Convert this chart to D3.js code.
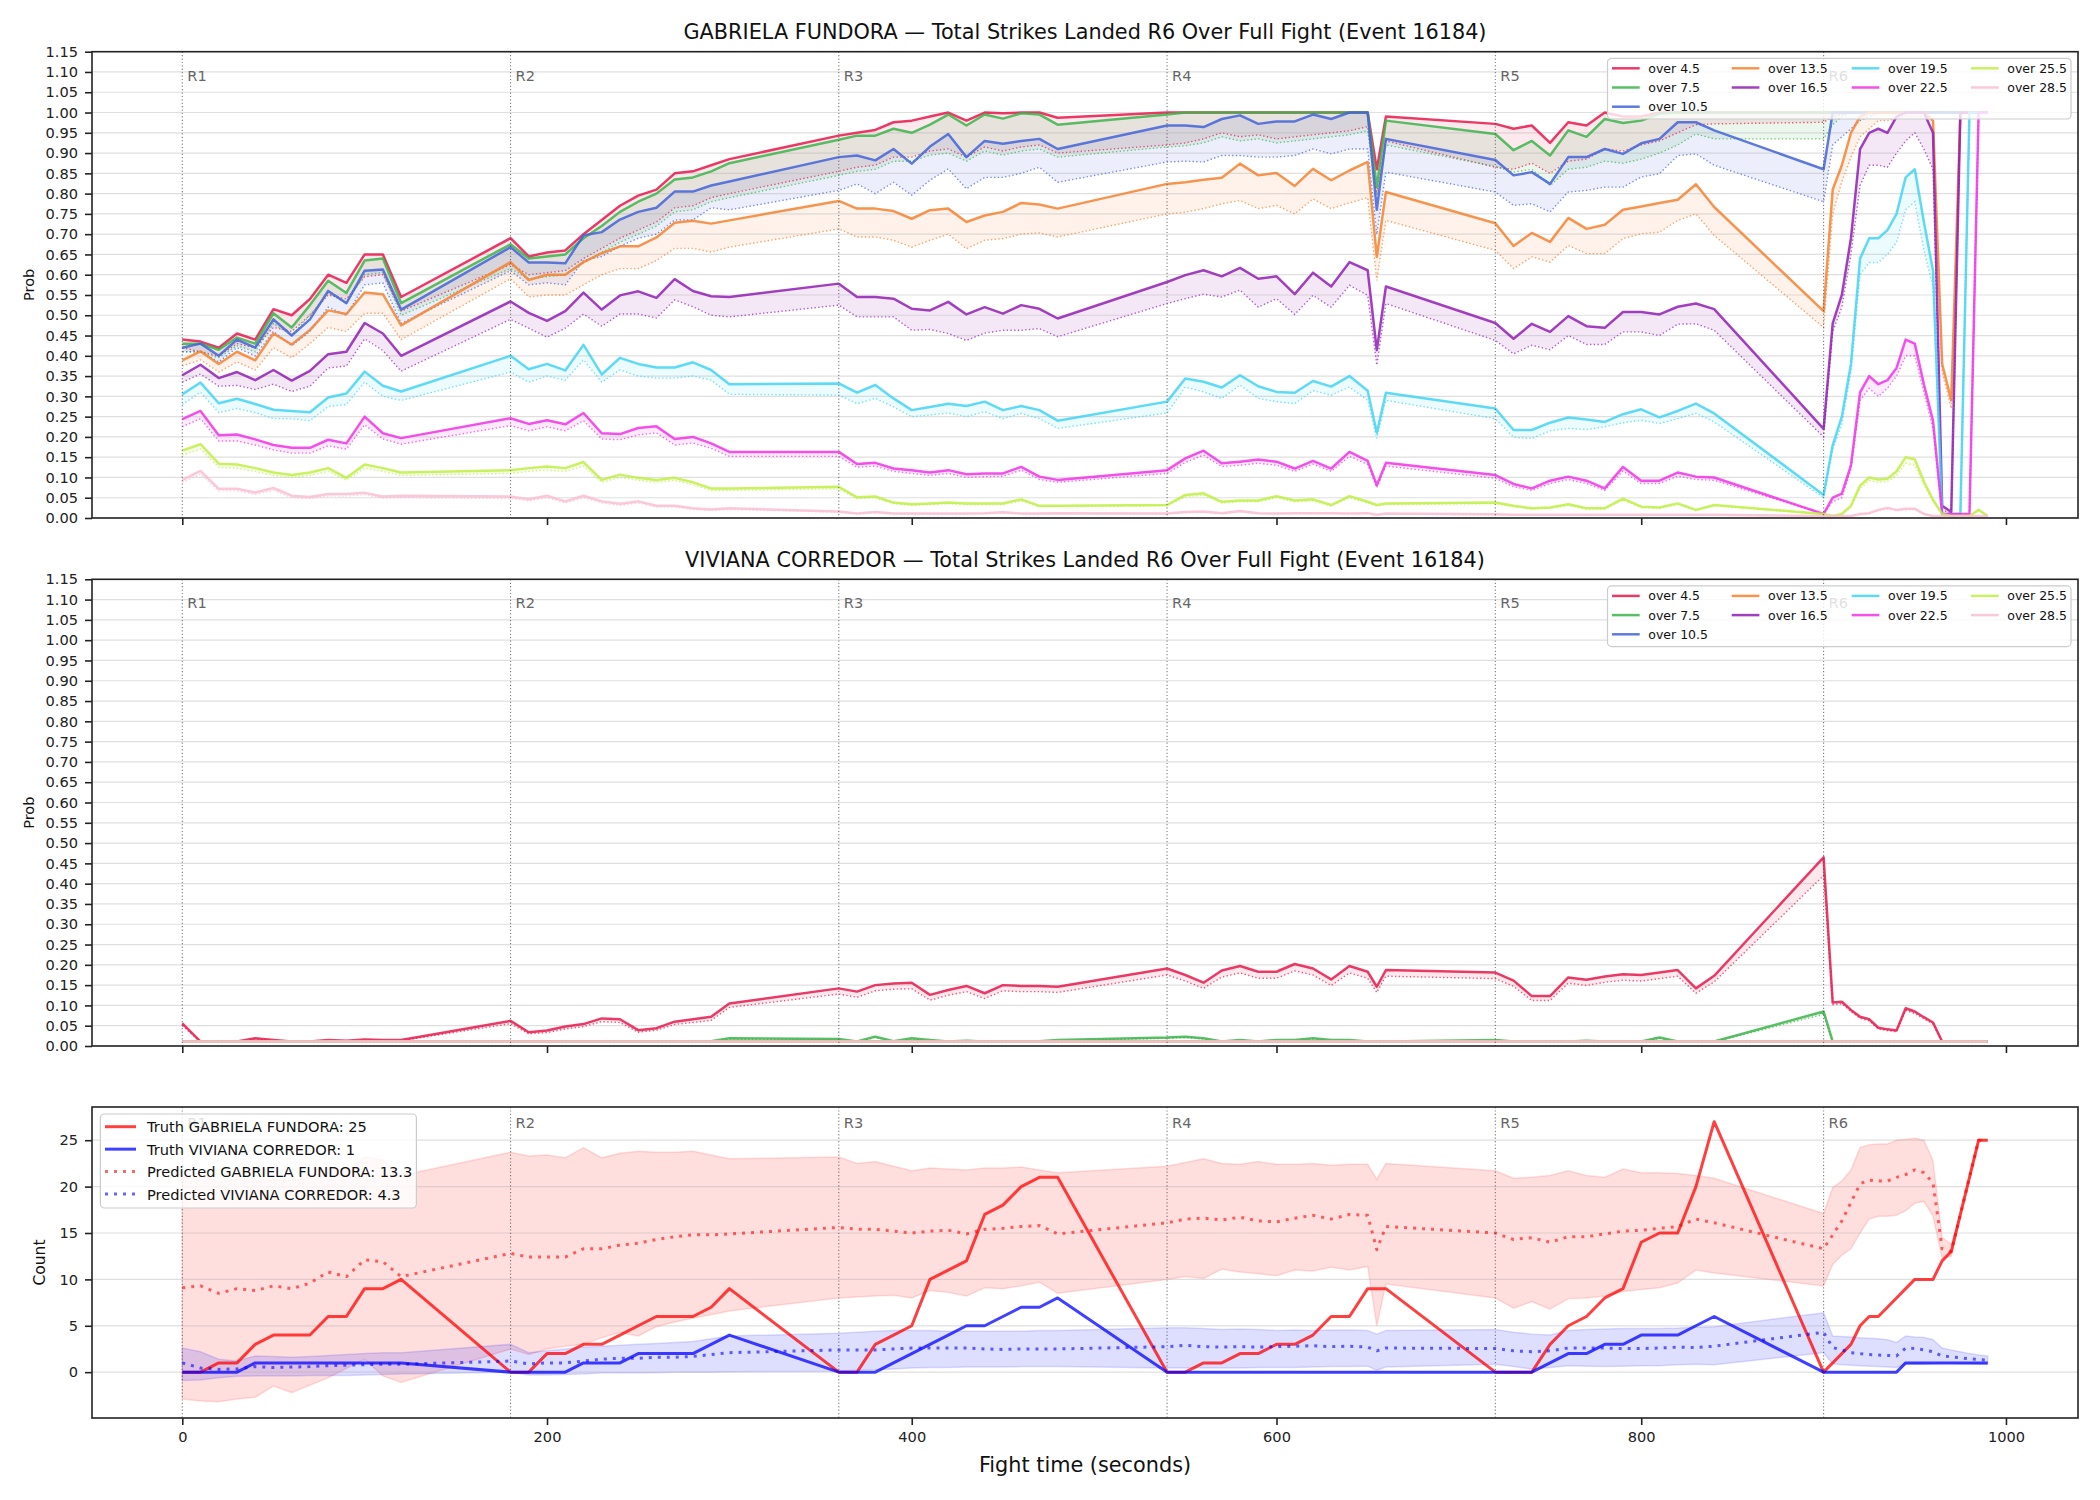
<!DOCTYPE html>
<html>
<head>
<meta charset="utf-8">
<script src="https://cdn.jsdelivr.net/npm/d3@7"></script>
<style>
  body { margin: 0; background: #fff; }
  text { font-family: "DejaVu Sans", sans-serif; }
</style>
</head>
<body>
<svg id="chart" width="2100" height="1500"></svg>
<script>
// sample times (seconds): 10s steps in R1-R5, 5s steps in R6, extra point at 655
const sampleTimes = [0,10,20,30,40,50,60,70,80,90,100,110,120,
  180,190,200,210,220,230,240,250,260,270,280,290,300,
  360,370,380,390,400,410,420,430,440,450,460,470,480,
  540,550,560,570,580,590,600,610,620,630,640,650,655,660,
  720,730,740,750,760,770,780,790,800,810,820,830,840,
  900,905,910,915,920,925,930,935,940,945,950,955,960,965,970,975,980,985,990];

const probTicks = [0,0.05,0.1,0.15,0.2,0.25,0.3,0.35,0.4,0.45,0.5,0.55,0.6,0.65,0.7,0.75,0.8,0.85,0.9,0.95,1,1.05,1.1,1.15];
const countTicks = [0,5,10,15,20,25];
const timeTicks = [0,200,400,600,800,1000];
const roundStarts = [0,180,360,540,720,900];
const roundLabels = ["R1","R2","R3","R4","R5","R6"];
const overLabels = ["over 4.5","over 7.5","over 10.5","over 13.5","over 16.5","over 19.5","over 22.5","over 25.5","over 28.5"];
const overColors = ["#e6194B","#3cb44b","#4363d8","#f58231","#911eb4","#42d4f4","#f032e6","#bfef45","#fabed4"];

// GABRIELA FUNDORA, solid line and dotted line per threshold
const gabLine45 = [0.44,0.435,0.42,0.455,0.44,0.515,0.50,0.54,0.60,0.58,0.65,0.65,0.545,
  0.69,0.645,0.655,0.66,0.70,0.735,0.77,0.795,0.81,0.85,0.855,0.87,0.885,
  0.943,0.95,0.957,0.976,0.98,0.99,1.0,0.98,1.0,0.998,1.0,1.0,0.987,
  1,1,1,1,1,1,1,1,1,1,1,1,0.86,0.99,
  0.972,0.96,0.968,0.925,0.976,0.968,1.0,0.99,0.99,1.0,1.0,1.0,1.0,
  1,1,1,1,1,1,1,1,1,1,1,1,1,1,1,1,1,1,1];
const gabDot45 = [0.42,0.41,0.40,0.43,0.42,0.47,0.46,0.50,0.55,0.54,0.595,0.60,0.51,
  0.625,0.60,0.605,0.61,0.64,0.665,0.69,0.71,0.73,0.765,0.77,0.79,0.80,
  0.855,0.865,0.87,0.89,0.89,0.905,0.91,0.89,0.915,0.905,0.915,0.92,0.90,
  0.92,0.925,0.935,0.95,0.94,0.945,0.935,0.94,0.945,0.95,0.955,0.965,0.80,0.93,
  0.865,0.86,0.875,0.85,0.88,0.885,0.91,0.905,0.92,0.93,0.95,0.97,0.972,
  0.976,0.99,0.995,1,1,1,1,1,1,1,1,1,1,1,1,1,1,1,1];
const gabLine75 = [0.43,0.43,0.415,0.445,0.43,0.505,0.47,0.525,0.585,0.555,0.635,0.64,0.53,
  0.675,0.64,0.645,0.65,0.69,0.72,0.755,0.78,0.80,0.835,0.84,0.855,0.875,
  0.933,0.943,0.943,0.96,0.95,0.97,0.995,0.968,0.995,0.985,0.998,0.995,0.97,
  0.995,1,1,1,1,1,1,1,1,1,1,1,0.816,0.98,
  0.947,0.907,0.93,0.894,0.956,0.94,0.984,0.974,0.98,0.997,1.0,1.0,1.0,
  1,1,1,1,1,1,1,1,1,1,1,1,1,1,1,1,1,1,1];
const gabDot75 = [0.41,0.41,0.395,0.425,0.41,0.48,0.45,0.50,0.555,0.53,0.60,0.605,0.50,
  0.615,0.59,0.595,0.60,0.63,0.655,0.68,0.70,0.72,0.755,0.76,0.78,0.79,
  0.845,0.855,0.86,0.88,0.88,0.895,0.90,0.88,0.905,0.895,0.905,0.91,0.89,
  0.915,0.918,0.925,0.94,0.93,0.935,0.925,0.93,0.935,0.94,0.945,0.955,0.79,0.92,
  0.867,0.853,0.86,0.82,0.86,0.865,0.88,0.875,0.885,0.90,0.92,0.947,0.935,
  0.935,0.97,0.99,1,1,1,1,1,1,1,1,1,1,1,1,1,1,1,1];
const gabLine105 = [0.42,0.43,0.40,0.44,0.42,0.49,0.45,0.49,0.56,0.53,0.61,0.613,0.514,
  0.668,0.63,0.63,0.628,0.697,0.705,0.736,0.755,0.765,0.805,0.805,0.82,0.83,
  0.89,0.894,0.882,0.91,0.874,0.916,0.947,0.89,0.93,0.923,0.93,0.935,0.91,
  0.968,0.968,0.964,0.984,0.993,0.972,0.978,0.978,0.995,0.984,1.0,1.0,0.76,0.935,
  0.883,0.845,0.853,0.824,0.89,0.89,0.91,0.898,0.924,0.935,0.976,0.976,0.956,
  0.86,1,1,1,1,1,1,1,1,1,1,1,1,1,1,1,1,1,1];
const gabDot105 = [0.41,0.41,0.385,0.42,0.40,0.46,0.425,0.46,0.52,0.50,0.575,0.58,0.48,
  0.61,0.575,0.58,0.575,0.635,0.645,0.67,0.69,0.70,0.735,0.735,0.765,0.76,
  0.808,0.824,0.80,0.828,0.796,0.833,0.861,0.812,0.84,0.84,0.85,0.865,0.828,
  0.878,0.88,0.878,0.894,0.894,0.89,0.89,0.894,0.91,0.898,0.91,0.91,0.70,0.853,
  0.804,0.771,0.775,0.755,0.804,0.808,0.816,0.816,0.841,0.849,0.894,0.898,0.87,
  0.78,0.92,0.94,0.96,0.98,0.99,1,1,1,1,1,1,1,1,1,1,1,1,1];
const gabLine135 = [0.389,0.411,0.38,0.41,0.389,0.455,0.428,0.464,0.512,0.503,0.556,0.552,0.475,
  0.631,0.587,0.60,0.60,0.631,0.653,0.67,0.67,0.692,0.728,0.733,0.726,0.734,
  0.782,0.763,0.763,0.757,0.738,0.759,0.763,0.73,0.746,0.755,0.777,0.773,0.763,
  0.824,0.828,0.834,0.839,0.874,0.845,0.851,0.819,0.861,0.833,0.857,0.878,0.644,0.804,
  0.727,0.671,0.703,0.681,0.74,0.713,0.723,0.76,0.768,0.777,0.785,0.823,0.767,
  0.51,0.81,0.87,0.95,0.99,1,1,1,1,1,1,1,0.98,0.38,0.29,1,1,1,1];
const gabDot135 = [0.375,0.39,0.36,0.385,0.365,0.42,0.395,0.43,0.47,0.46,0.505,0.505,0.44,
  0.59,0.545,0.55,0.55,0.575,0.60,0.615,0.615,0.635,0.665,0.665,0.656,0.668,
  0.713,0.693,0.693,0.685,0.668,0.685,0.70,0.664,0.685,0.689,0.70,0.703,0.693,
  0.75,0.754,0.763,0.775,0.783,0.763,0.771,0.75,0.787,0.763,0.777,0.79,0.586,0.734,
  0.66,0.615,0.644,0.631,0.672,0.652,0.652,0.689,0.701,0.705,0.734,0.75,0.697,
  0.47,0.75,0.83,0.89,0.94,0.96,0.98,0.98,0.985,0.99,0.99,0.99,0.98,0.36,0.27,1,1,1,1];
const gabLine165 = [0.352,0.378,0.345,0.36,0.34,0.365,0.339,0.363,0.404,0.41,0.481,0.455,0.40,
  0.534,0.506,0.486,0.51,0.556,0.514,0.549,0.559,0.543,0.589,0.56,0.547,0.545,
  0.578,0.545,0.545,0.541,0.516,0.512,0.533,0.502,0.52,0.504,0.525,0.516,0.492,
  0.582,0.599,0.611,0.596,0.617,0.59,0.596,0.552,0.605,0.571,0.631,0.611,0.414,0.571,
  0.481,0.442,0.479,0.459,0.498,0.473,0.469,0.508,0.508,0.502,0.521,0.529,0.515,
  0.22,0.48,0.55,0.69,0.91,0.95,0.96,0.95,0.99,1,1,1,0.95,0.03,0.015,1,1,1,1];
const gabDot165 = [0.335,0.355,0.325,0.327,0.317,0.33,0.312,0.325,0.37,0.375,0.442,0.413,0.362,
  0.49,0.468,0.446,0.468,0.503,0.473,0.503,0.503,0.493,0.538,0.521,0.50,0.496,
  0.525,0.496,0.496,0.496,0.463,0.465,0.455,0.438,0.456,0.463,0.463,0.467,0.447,
  0.529,0.541,0.552,0.545,0.562,0.52,0.541,0.502,0.549,0.52,0.574,0.549,0.377,0.529,
  0.438,0.405,0.426,0.415,0.45,0.428,0.428,0.459,0.459,0.45,0.478,0.479,0.463,
  0.20,0.46,0.52,0.65,0.82,0.87,0.87,0.865,0.90,0.93,0.95,0.91,0.86,0.02,0.01,1,1,1,1];
const gabLine195 = [0.305,0.334,0.283,0.294,0.281,0.267,0.264,0.261,0.297,0.307,0.361,0.326,0.312,
  0.40,0.367,0.38,0.364,0.427,0.354,0.395,0.38,0.371,0.371,0.384,0.365,0.33,
  0.332,0.309,0.328,0.295,0.266,0.274,0.282,0.276,0.287,0.266,0.276,0.266,0.24,
  0.287,0.344,0.336,0.322,0.352,0.325,0.311,0.309,0.338,0.324,0.35,0.314,0.21,0.309,
  0.27,0.217,0.217,0.235,0.248,0.243,0.237,0.256,0.268,0.248,0.264,0.282,0.258,
  0.057,0.18,0.25,0.38,0.64,0.69,0.69,0.71,0.75,0.84,0.86,0.73,0.61,0.01,0.01,0.01,1,1,1];
const gabDot195 = [0.28,0.31,0.26,0.27,0.26,0.245,0.245,0.24,0.275,0.28,0.335,0.30,0.29,
  0.36,0.335,0.35,0.34,0.39,0.335,0.365,0.35,0.345,0.345,0.35,0.34,0.305,
  0.303,0.282,0.295,0.274,0.25,0.254,0.259,0.25,0.262,0.245,0.258,0.245,0.221,
  0.259,0.323,0.311,0.295,0.328,0.295,0.287,0.282,0.314,0.303,0.323,0.29,0.196,0.29,
  0.245,0.199,0.196,0.215,0.221,0.218,0.225,0.235,0.241,0.233,0.245,0.258,0.237,
  0.05,0.17,0.23,0.36,0.60,0.63,0.63,0.65,0.68,0.76,0.78,0.66,0.57,0.01,0.01,0.01,1,1,1];
const gabLine225 = [0.244,0.264,0.204,0.206,0.194,0.18,0.173,0.173,0.193,0.184,0.25,0.209,0.197,
  0.246,0.232,0.241,0.231,0.259,0.209,0.207,0.222,0.226,0.195,0.20,0.184,0.163,
  0.163,0.133,0.136,0.122,0.118,0.112,0.118,0.108,0.11,0.11,0.126,0.102,0.094,
  0.118,0.147,0.166,0.135,0.139,0.144,0.139,0.122,0.141,0.122,0.163,0.141,0.081,0.136,
  0.106,0.084,0.073,0.092,0.102,0.092,0.073,0.126,0.092,0.092,0.112,0.102,0.10,
  0.01,0.05,0.06,0.13,0.31,0.35,0.33,0.34,0.37,0.44,0.43,0.33,0.24,0.01,0.01,0.01,0.01,1,1];
const gabDot225 = [0.225,0.245,0.19,0.19,0.18,0.168,0.16,0.16,0.178,0.17,0.23,0.195,0.182,
  0.228,0.215,0.225,0.215,0.24,0.195,0.193,0.205,0.21,0.18,0.185,0.172,0.152,
  0.152,0.125,0.128,0.115,0.11,0.105,0.11,0.10,0.102,0.103,0.118,0.095,0.088,
  0.11,0.137,0.155,0.127,0.13,0.135,0.13,0.115,0.133,0.115,0.152,0.132,0.075,0.128,
  0.098,0.077,0.068,0.085,0.095,0.085,0.068,0.116,0.085,0.085,0.103,0.095,0.093,
  0.01,0.04,0.05,0.12,0.29,0.32,0.30,0.32,0.35,0.40,0.40,0.31,0.22,0.01,0.01,0.01,0.01,1,1];
const gabLine255 = [0.166,0.182,0.134,0.132,0.123,0.112,0.106,0.112,0.123,0.099,0.132,0.123,0.112,
  0.118,0.123,0.127,0.123,0.138,0.094,0.107,0.099,0.094,0.099,0.088,0.073,0.073,
  0.077,0.051,0.053,0.038,0.034,0.036,0.038,0.036,0.036,0.036,0.046,0.03,0.03,
  0.032,0.057,0.061,0.04,0.043,0.043,0.054,0.043,0.046,0.032,0.054,0.04,0.032,0.036,
  0.038,0.03,0.024,0.026,0.034,0.024,0.024,0.048,0.028,0.026,0.036,0.02,0.032,
  0.01,0.005,0.01,0.03,0.08,0.10,0.095,0.097,0.115,0.15,0.145,0.09,0.045,0.01,0.005,0.005,0.005,0.02,0.005];
const gabDot255 = [0.155,0.17,0.125,0.123,0.115,0.105,0.1,0.105,0.115,0.093,0.123,0.115,0.105,
  0.11,0.115,0.118,0.115,0.128,0.088,0.1,0.093,0.088,0.093,0.082,0.068,0.068,
  0.072,0.048,0.05,0.035,0.031,0.033,0.035,0.033,0.033,0.033,0.042,0.028,0.028,
  0.03,0.052,0.056,0.037,0.04,0.04,0.05,0.04,0.042,0.03,0.05,0.037,0.03,0.033,
  0.035,0.028,0.022,0.024,0.031,0.022,0.022,0.044,0.026,0.024,0.033,0.018,0.03,
  0.009,0.005,0.009,0.027,0.073,0.092,0.088,0.09,0.105,0.135,0.13,0.082,0.04,0.009,0.005,0.005,0.005,0.018,0.005];
const gabLine285 = [0.094,0.116,0.072,0.072,0.063,0.074,0.055,0.052,0.059,0.059,0.062,0.053,0.055,
  0.053,0.046,0.055,0.041,0.055,0.041,0.035,0.041,0.03,0.03,0.024,0.021,0.024,
  0.016,0.011,0.015,0.011,0.011,0.011,0.011,0.011,0.012,0.014,0.011,0.011,0.012,
  0.011,0.015,0.016,0.012,0.017,0.012,0.011,0.012,0.012,0.012,0.011,0.012,0.008,0.011,
  0.009,0.008,0.008,0.008,0.008,0.008,0.008,0.008,0.008,0.008,0.008,0.008,0.008,
  0.005,0.005,0.005,0.005,0.01,0.012,0.02,0.025,0.02,0.023,0.023,0.01,0.005,0.005,0.005,0.005,0.005,0.005,0.005];
const gabDot285 = [0.088,0.108,0.067,0.067,0.058,0.068,0.05,0.048,0.054,0.054,0.057,0.049,0.05,
  0.048,0.042,0.05,0.037,0.05,0.037,0.031,0.037,0.027,0.027,0.021,0.019,0.021,
  0.014,0.01,0.013,0.01,0.01,0.01,0.01,0.01,0.011,0.012,0.01,0.01,0.011,
  0.01,0.013,0.014,0.011,0.015,0.011,0.01,0.011,0.011,0.011,0.01,0.011,0.007,0.01,
  0.007,0.007,0.007,0.007,0.007,0.007,0.007,0.007,0.007,0.007,0.007,0.007,0.007,
  0.004,0.004,0.004,0.004,0.009,0.011,0.018,0.022,0.018,0.02,0.02,0.009,0.004,0.004,0.004,0.004,0.004,0.004,0.004];

// VIVIANA CORREDOR
const vivLine45 = [0.056,0.011,0.011,0.011,0.019,0.015,0.011,0.011,0.015,0.013,0.016,0.015,0.015,
  0.062,0.034,0.038,0.048,0.054,0.068,0.066,0.039,0.044,0.06,0.066,0.072,0.105,
  0.142,0.134,0.15,0.154,0.156,0.126,0.138,0.148,0.13,0.15,0.148,0.148,0.146,
  0.191,0.175,0.156,0.186,0.197,0.183,0.183,0.202,0.191,0.164,0.197,0.183,0.146,0.187,
  0.181,0.161,0.123,0.123,0.169,0.163,0.171,0.177,0.175,0.181,0.187,0.142,0.173,
  0.465,0.107,0.109,0.089,0.072,0.066,0.045,0.041,0.038,0.093,0.085,0.071,0.058,0.011,0.011,0.011,0.011,0.011,0.011];
const vivDot45 = [0.05,0.01,0.01,0.01,0.017,0.013,0.01,0.01,0.013,0.012,0.014,0.013,0.013,
  0.055,0.03,0.033,0.042,0.048,0.06,0.058,0.034,0.039,0.053,0.058,0.063,0.095,
  0.128,0.12,0.136,0.14,0.141,0.113,0.125,0.134,0.117,0.136,0.134,0.134,0.132,
  0.175,0.16,0.142,0.17,0.18,0.167,0.167,0.185,0.175,0.149,0.18,0.167,0.132,0.172,
  0.166,0.147,0.112,0.112,0.155,0.149,0.157,0.162,0.16,0.166,0.172,0.13,0.158,
  0.42,0.102,0.104,0.085,0.068,0.062,0.042,0.038,0.035,0.088,0.08,0.067,0.054,0.01,0.01,0.01,0.01,0.01,0.01];
const vivLine75 = [0.011,0.011,0.011,0.011,0.011,0.011,0.011,0.011,0.011,0.011,0.011,0.011,0.011,
  0.011,0.011,0.011,0.011,0.011,0.011,0.011,0.011,0.011,0.011,0.011,0.012,0.019,
  0.017,0.011,0.023,0.012,0.019,0.015,0.011,0.013,0.011,0.011,0.012,0.012,0.015,
  0.021,0.023,0.019,0.011,0.015,0.011,0.015,0.015,0.019,0.015,0.015,0.011,0.011,0.011,
  0.015,0.011,0.011,0.011,0.011,0.013,0.011,0.011,0.011,0.021,0.011,0.011,0.011,
  0.085,0.011,0.011,0.011,0.011,0.011,0.011,0.011,0.011,0.011,0.011,0.011,0.011,0.011,0.011,0.011,0.011,0.011,0.011];
const vivDot75 = [0.01,0.01,0.01,0.01,0.01,0.01,0.01,0.01,0.01,0.01,0.01,0.01,0.01,
  0.01,0.01,0.01,0.01,0.01,0.01,0.01,0.01,0.01,0.01,0.01,0.011,0.017,
  0.015,0.01,0.021,0.011,0.017,0.013,0.01,0.012,0.01,0.01,0.011,0.011,0.013,
  0.019,0.021,0.017,0.01,0.013,0.01,0.013,0.013,0.017,0.013,0.013,0.01,0.01,0.01,
  0.013,0.01,0.01,0.01,0.01,0.012,0.01,0.01,0.01,0.019,0.01,0.01,0.01,
  0.078,0.01,0.01,0.01,0.01,0.01,0.01,0.01,0.01,0.01,0.01,0.01,0.01,0.01,0.01,0.01,0.01,0.01,0.01];
// higher thresholds for VIVIANA sit flat near 0.01 for the whole fight
const vivFlatTimes = [0, 990];
const vivFlatLine = [0.011, 0.011];
const vivFlatDot = [0.009, 0.009];

// count panel
const truthGab = [0,0,1,1,3,4,4,4,6,6,9,9,10,
  0,0,2,2,3,3,4,5,6,6,6,7,9,
  0,0,3,4,5,10,11,12,17,18,20,21,21,
  0,0,1,1,2,2,3,3,4,6,6,9,9,9,
  0,0,0,3,5,6,8,9,14,15,15,20,27,
  0,1,2,3,5,6,6,7,8,9,10,10,10,12,13,17,21,25,25];
const truthViv = [0,0,0,0,1,1,1,1,1,1,1,1,1,
  0,0,0,0,1,1,1,2,2,2,2,3,4,
  0,0,0,1,2,3,4,5,5,6,7,7,8,
  0,0,0,0,0,0,0,0,0,0,0,0,0,0,
  0,0,0,1,2,2,3,3,4,4,4,5,6,
  0,0,0,0,0,0,0,0,0,1,1,1,1,1,1,1,1,1,1];
const predGab = [9.1,9.3,8.5,9.0,8.8,9.3,9.0,9.6,10.8,10.3,12.1,11.9,10.3,
  12.8,12.4,12.4,12.4,13.3,13.3,13.7,13.9,14.3,14.6,14.8,14.8,14.9,
  15.6,15.4,15.4,15.2,15.0,15.2,15.3,14.9,15.4,15.5,15.7,15.8,14.9,
  16.1,16.5,16.6,16.4,16.7,16.3,16.2,16.6,16.9,16.5,17.0,16.9,13.2,15.7,
  15.0,14.3,14.5,14.0,14.6,14.6,14.9,15.2,15.3,15.5,15.7,16.5,16.1,
  13.3,14.8,16.3,18.3,20.3,20.7,20.6,20.6,21.0,21.3,21.8,21.5,20.4,13.3,13.0,17,21,25,25];
const gabUpper = [21.0,21.5,20.5,20.8,20.5,20.8,20.6,21.0,22.0,21.8,23.2,22.9,21.2,
  23.7,23.3,23.4,23.1,24.2,23.1,23.6,23.8,23.7,23.7,23.8,23.4,23.0,
  23.2,22.5,22.7,22.2,21.7,22.0,21.9,21.8,22.0,22.0,22.1,21.8,21.5,
  22.2,22.6,23.0,22.5,22.4,22.7,22.4,22.4,22.5,22.3,22.4,22.4,20.8,22.5,
  21.7,20.9,21.0,21.2,21.7,21.2,21.0,21.9,21.5,21.5,21.4,21.2,20.9,
  17.1,19.9,20.6,21.8,24.2,24.5,24.6,24.6,25.0,25.1,25.2,25.0,22.8,14.5,13.8,17,21,25,25];
const gabLower = [-2.9,-3.1,-3.2,-2.9,-2.7,-1.5,-2.2,-1.4,-0.6,0.4,1.4,-0.4,-1.1,
  2.5,1.9,2.5,2.8,3.0,3.7,4.3,3.9,4.9,5.4,5.8,6.2,6.6,
  8.0,8.1,8.2,8.3,8.0,8.8,8.6,8.2,9.1,9.0,9.3,9.7,8.5,
  10.0,10.3,10.1,11.1,10.8,10.6,10.4,11.0,10.9,11.3,11.0,11.4,5.0,9.5,
  8.0,6.9,7.6,6.8,7.9,8.0,8.2,8.7,8.9,9.1,9.6,11.0,10.7,
  9.3,11.6,12.6,13.3,15.0,16.5,16.8,16.8,16.9,17.4,18.2,18.4,16.8,12.3,12.5,17,21,25,25];
const predViv = [1.0,0.45,0.3,0.35,0.6,0.5,0.55,0.6,0.7,0.75,0.8,0.85,0.85,
  1.2,0.9,1.0,1.0,1.2,1.4,1.5,1.5,1.6,1.6,1.7,1.9,2.1,
  2.4,2.4,2.4,2.5,2.6,2.6,2.6,2.6,2.5,2.45,2.5,2.5,2.5,
  2.75,2.9,2.75,2.7,2.75,2.7,2.75,2.8,2.85,2.75,2.8,2.7,2.3,2.6,
  2.55,2.3,2.2,2.3,2.6,2.6,2.6,2.55,2.55,2.6,2.7,2.65,2.8,
  4.3,2.65,2.4,2.1,2.0,1.9,1.85,1.8,1.75,2.6,2.55,2.4,2.2,1.75,1.65,1.55,1.45,1.35,1.3];
const vivUpper = [2.6,2.2,1.4,1.2,1.75,1.7,1.6,1.7,1.8,1.9,2.0,2.1,2.1,
  3.0,2.1,2.3,2.5,2.7,2.8,2.9,3.0,3.1,3.2,3.3,3.6,3.9,
  4.2,4.3,4.4,4.5,4.5,4.5,4.4,4.4,4.4,4.4,4.4,4.5,4.5,
  4.8,4.8,4.7,4.6,4.65,4.6,4.5,4.55,4.5,4.55,4.55,4.5,4.1,4.5,
  4.6,4.3,4.1,4.0,4.5,4.6,4.65,4.7,4.7,4.7,4.75,4.85,4.9,
  6.4,3.9,3.85,3.8,3.7,3.65,3.6,3.5,3.2,3.9,3.8,3.75,3.5,2.6,2.4,2.2,2.0,1.85,1.75];
const vivLower = [-0.9,-0.85,-0.6,-0.45,-0.4,-0.4,-0.4,-0.35,-0.35,-0.35,-0.3,-0.25,-0.2,
  0.0,-0.3,-0.3,-0.25,-0.2,-0.1,-0.1,-0.1,-0.05,0.0,0.0,0.0,0.05,
  0.1,0.2,0.25,0.35,0.45,0.5,0.5,0.55,0.55,0.55,0.6,0.6,0.6,
  0.45,0.45,0.45,0.45,0.45,0.5,0.5,0.5,0.55,0.6,0.6,0.65,0.2,0.55,
  0.86,0.6,0.35,0.5,0.7,0.65,0.6,0.65,0.7,0.7,0.8,0.85,0.8,
  2.1,0.9,0.8,0.75,0.7,0.65,0.6,0.55,0.5,0.85,0.85,0.85,0.9,1.0,0.95,0.9,0.9,0.85,0.85];

const svg = d3.select("#chart");
const left = 92, right = 2078;
const x = d3.scaleLinear().domain([-49.5, 1039.5]).range([left, right]);
const panels = [
  {top: 51.7, bottom: 518},
  {top: 579.3, bottom: 1046},
  {top: 1107, bottom: 1418}
];
const yGab = d3.scaleLinear().domain([0, 1.15]).range([panels[0].bottom, panels[0].top]);
const yViv = d3.scaleLinear().domain([0, 1.15]).range([panels[1].bottom, panels[1].top]);
const yCount = d3.scaleLinear().domain([-4.94, 28.58]).range([panels[2].bottom, panels[2].top]);

const gabSeries = [
  [gabLine45, gabDot45], [gabLine75, gabDot75], [gabLine105, gabDot105],
  [gabLine135, gabDot135], [gabLine165, gabDot165], [gabLine195, gabDot195],
  [gabLine225, gabDot225], [gabLine255, gabDot255], [gabLine285, gabDot285]
].map((d, i) => ({times: sampleTimes, line: d[0], dots: d[1], name: overLabels[i], color: overColors[i]}));

const vivSeries = overLabels.map((name, i) => {
  if (i === 0) return {times: sampleTimes, line: vivLine45, dots: vivDot45, name, color: overColors[i]};
  if (i === 1) return {times: sampleTimes, line: vivLine75, dots: vivDot75, name, color: overColors[i]};
  return {times: vivFlatTimes, line: vivFlatLine, dots: vivFlatDot, name, color: overColors[i]};
});

function addClip(id, p) {
  svg.append("clipPath").attr("id", id).append("rect")
    .attr("x", left).attr("y", p.top).attr("width", right - left).attr("height", p.bottom - p.top);
}

function drawGrid(g, y, ticks) {
  g.append("g").selectAll("line").data(ticks).enter().append("line")
    .attr("x1", left).attr("x2", right)
    .attr("y1", d => y(d)).attr("y2", d => y(d))
    .attr("stroke", "#b0b0b0").attr("stroke-opacity", 0.4).attr("stroke-width", 1.2);
}

function drawRounds(g, p, labelValue, y) {
  g.append("g").selectAll("line").data(roundStarts).enter().append("line")
    .attr("x1", d => x(d)).attr("x2", d => x(d))
    .attr("y1", p.top).attr("y2", p.bottom)
    .attr("stroke", "#444").attr("stroke-opacity", 0.7)
    .attr("stroke-width", 1.1).attr("stroke-dasharray", "1.2,2.2");
  g.append("g").selectAll("text").data(roundStarts).enter().append("text")
    .attr("x", d => x(d) + 5).attr("y", y(labelValue))
    .attr("dominant-baseline", "central")
    .attr("font-size", 14.6).attr("fill", "#666")
    .text((d, i) => roundLabels[i]);
}

function drawAxes(p, y, ticks, fmt, showX) {
  const g = svg.append("g");
  const ya = g.append("g").attr("transform", `translate(${left},0)`)
    .call(d3.axisLeft(y).tickValues(ticks).tickFormat(fmt).tickSize(7).tickPadding(7));
  const xa = g.append("g").attr("transform", `translate(0,${p.bottom})`)
    .call(d3.axisBottom(x).tickValues(timeTicks).tickFormat(showX ? d3.format("d") : () => "").tickSize(7).tickPadding(7));
  [ya, xa].forEach(a => {
    a.select(".domain").remove();
    a.selectAll(".tick line").attr("stroke", "#222").attr("stroke-width", 1.6);
    a.selectAll(".tick text").attr("font-size", 14.6).attr("fill", "#222")
      .attr("font-family", "DejaVu Sans");
  });
  g.append("rect").attr("x", left).attr("y", p.top)
    .attr("width", right - left).attr("height", p.bottom - p.top)
    .attr("fill", "none").attr("stroke", "#222").attr("stroke-width", 1.6);
}

function drawProbPanel(p, y, series, title, clipId) {
  addClip(clipId, p);
  const g = svg.append("g").attr("clip-path", `url(#${clipId})`);
  const line = d3.line().x(d => x(d[0])).y(d => y(d[1]));
  const dotLine = d3.line().x(d => x(d[0])).y(d => y(d[2]));
  const area = d3.area().x(d => x(d[0])).y0(d => y(d[2])).y1(d => y(d[1]));
  series.forEach(s => {
    const pts = s.times.map((t, i) => [t, s.line[i], s.dots[i]]);
    g.append("path").datum(pts).attr("d", area)
      .attr("fill", s.color).attr("fill-opacity", 0.1);
  });
  drawGrid(g, y, probTicks);
  series.forEach(s => {
    const pts = s.times.map((t, i) => [t, s.line[i], s.dots[i]]);
    g.append("path").datum(pts).attr("d", line)
      .attr("fill", "none").attr("stroke", s.color).attr("stroke-opacity", 0.85)
      .attr("stroke-width", 2.5).attr("stroke-linejoin", "round");
    g.append("path").datum(pts).attr("d", dotLine)
      .attr("fill", "none").attr("stroke", s.color).attr("stroke-opacity", 0.7)
      .attr("stroke-width", 1.4).attr("stroke-dasharray", "1.4,2.3");
  });
  drawRounds(g, p, 1.0925, y);
  drawAxes(p, y, probTicks, d3.format(".2f"), false);

  svg.append("text").attr("x", (left + right) / 2).attr("y", p.top - 12.5)
    .attr("text-anchor", "middle").attr("font-size", 20.8).attr("fill", "#111")
    .text(title);
  svg.append("text")
    .attr("transform", `translate(28,${(p.top + p.bottom) / 2}) rotate(-90)`)
    .attr("text-anchor", "middle").attr("dominant-baseline", "central")
    .attr("font-size", 14.6).attr("fill", "#111").text("Prob");

  // legend, 4 columns filled column by column
  const lg = svg.append("g");
  lg.append("rect").attr("x", 1607.5).attr("y", p.top + 6.6)
    .attr("width", 463.5).attr("height", 60.7).attr("rx", 4)
    .attr("fill", "#fff").attr("fill-opacity", 0.8)
    .attr("stroke", "#cccccc").attr("stroke-width", 1.2);
  const colCounts = [3, 2, 2, 2];
  const colX = [1612, 1731.7, 1851.7, 1971];
  let k = 0;
  colCounts.forEach((n, c) => {
    for (let r = 0; r < n; r++, k++) {
      const yy = p.top + 16.6 + r * 19.2;
      lg.append("line").attr("x1", colX[c]).attr("x2", colX[c] + 27.7)
        .attr("y1", yy).attr("y2", yy)
        .attr("stroke", series[k].color).attr("stroke-opacity", 0.85).attr("stroke-width", 2.5);
      lg.append("text").attr("x", colX[c] + 36.3).attr("y", yy)
        .attr("dominant-baseline", "central").attr("font-size", 12.5).attr("fill", "#111")
        .text(series[k].name);
    }
  });
}

drawProbPanel(panels[0], yGab, gabSeries,
  "GABRIELA FUNDORA \u2014 Total Strikes Landed R6 Over Full Fight (Event 16184)", "clipGab");
drawProbPanel(panels[1], yViv, vivSeries,
  "VIVIANA CORREDOR \u2014 Total Strikes Landed R6 Over Full Fight (Event 16184)", "clipViv");

// count panel
(function () {
  const p = panels[2];
  addClip("clipCount", p);
  const g = svg.append("g").attr("clip-path", "url(#clipCount)");
  const band = (lo, hi) => sampleTimes.map((t, i) => [t, lo[i], hi[i]]);
  const area = d3.area().x(d => x(d[0])).y0(d => yCount(d[1])).y1(d => yCount(d[2]));
  const line = d3.line().x(d => x(d[0])).y(d => yCount(d[1]));
  const pairs = arr => sampleTimes.map((t, i) => [t, arr[i]]);

  g.append("path").datum(band(gabLower, gabUpper)).attr("d", area)
    .attr("fill", "#ff0000").attr("fill-opacity", 0.13)
    .attr("stroke", "#ff0000").attr("stroke-opacity", 0.13).attr("stroke-width", 1.5);
  g.append("path").datum(band(vivLower, vivUpper)).attr("d", area)
    .attr("fill", "#0000ff").attr("fill-opacity", 0.13)
    .attr("stroke", "#0000ff").attr("stroke-opacity", 0.13).attr("stroke-width", 1.5);
  drawGrid(g, yCount, countTicks);

  const lines = [
    {data: truthGab, color: "#ff0000", op: 0.75, dash: null},
    {data: truthViv, color: "#0000ff", op: 0.75, dash: null},
    {data: predGab, color: "#ff0000", op: 0.6, dash: "3,6"},
    {data: predViv, color: "#0000ff", op: 0.6, dash: "3,6"}
  ];
  lines.forEach(l => {
    g.append("path").datum(pairs(l.data)).attr("d", line)
      .attr("fill", "none").attr("stroke", l.color).attr("stroke-opacity", l.op)
      .attr("stroke-width", 3).attr("stroke-linejoin", "round")
      .attr("stroke-dasharray", l.dash);
  });
  drawRounds(g, p, 26.9, yCount);
  drawAxes(p, yCount, countTicks, d3.format("d"), true);

  svg.append("text")
    .attr("transform", `translate(40,${(p.top + p.bottom) / 2}) rotate(-90)`)
    .attr("text-anchor", "middle").attr("dominant-baseline", "central")
    .attr("font-size", 15.5).attr("fill", "#111").text("Count");
  svg.append("text").attr("x", (left + right) / 2).attr("y", 1472)
    .attr("text-anchor", "middle").attr("font-size", 20.8).attr("fill", "#111")
    .text("Fight time (seconds)");

  const legendItems = [
    {label: "Truth GABRIELA FUNDORA: 25", color: "#ff0000", op: 0.75, dash: null},
    {label: "Truth VIVIANA CORREDOR: 1", color: "#0000ff", op: 0.75, dash: null},
    {label: "Predicted GABRIELA FUNDORA: 13.3", color: "#ff0000", op: 0.6, dash: "3,6"},
    {label: "Predicted VIVIANA CORREDOR: 4.3", color: "#0000ff", op: 0.6, dash: "3,6"}
  ];
  const lg = svg.append("g");
  lg.append("rect").attr("x", 100.4).attr("y", 1114).attr("width", 316).attr("height", 94)
    .attr("rx", 4).attr("fill", "#fff").attr("fill-opacity", 0.8)
    .attr("stroke", "#cccccc").attr("stroke-width", 1.2);
  legendItems.forEach((d, i) => {
    const yy = 1126.7 + i * 22.45;
    lg.append("line").attr("x1", 105).attr("x2", 136).attr("y1", yy).attr("y2", yy)
      .attr("stroke", d.color).attr("stroke-opacity", d.op).attr("stroke-width", 3)
      .attr("stroke-dasharray", d.dash);
    lg.append("text").attr("x", 147).attr("y", yy).attr("dominant-baseline", "central")
      .attr("font-size", 14.6).attr("fill", "#111").text(d.label);
  });
})();
</script>
</body>
</html>
